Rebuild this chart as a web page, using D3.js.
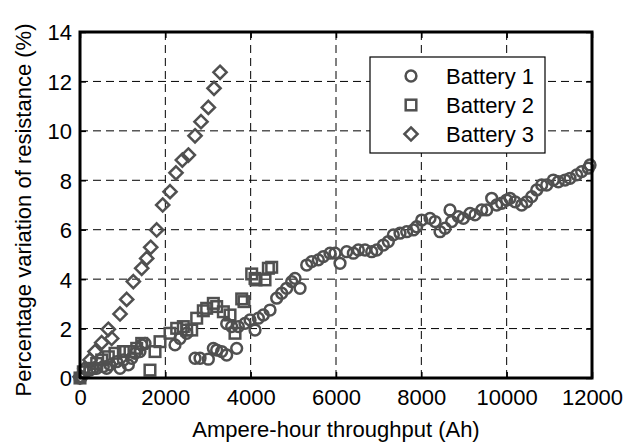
<!DOCTYPE html>
<html><head><meta charset="utf-8">
<script src="https://cdn.jsdelivr.net/npm/d3@7"></script>
<style>
html,body{margin:0;padding:0;background:#fff;}
text{font-family:"Liberation Sans",Arial,sans-serif;}
</style></head>
<body><svg id="c" width="643" height="443"></svg>
<script>
// Data (Ah throughput, % variation of resistance)
const battery1X = [0,39,234,312,391,547,625,703,860,938,1016,1133,1211,1289,1406,1446,1524,2227,2344,2500,2696,2813,3008,3125,3203,3320,3438,3438,3555,3672,3711,3867,3985,4102,4180,4297,4454,4610,4727,4844,4962,5039,5157,5313,5430,5586,5703,5860,5977,6094,6250,6407,6524,6680,6837,6954,7110,7227,7344,7500,7657,7813,7891,8009,8204,8321,8438,8555,8672,8711,8867,8985,9141,9258,9415,9532,9649,9766,9883,10000,10079,10196,10352,10470,10587,10704,10821,10938,11094,11211,11368,11485,11641,11758,11914,11954];
const battery1Y = [0,0.05,0.32,0.39,0.39,0.46,0.39,0.53,0.66,0.39,0.73,0.53,0.8,1.0,1.07,1.34,1.4,1.34,1.6,1.81,0.8,0.8,0.76,1.2,1.13,1.07,0.93,2.2,2.08,1.2,2.08,2.21,2.35,1.94,2.42,2.55,2.75,3.23,3.43,3.63,3.9,4.03,3.63,4.57,4.71,4.78,4.91,5.05,5.05,4.64,5.11,5.05,5.18,5.18,5.11,5.18,5.38,5.52,5.79,5.86,5.92,5.99,6.12,6.39,6.46,6.33,5.92,6.06,6.8,6.33,6.53,6.46,6.66,6.6,6.8,6.8,7.27,7.0,7.07,7.2,7.27,7.13,7.0,7.13,7.34,7.61,7.81,7.81,8.01,7.94,8.01,8.08,8.22,8.35,8.49,8.62];
const battery2X = [0,78,234,391,508,664,820,1016,1172,1329,1446,1640,1758,1875,2110,2266,2422,2500,2618,2735,2890,2969,3125,3203,3360,3516,3633,3790,3844,4024,4102,4125,4336,4415,4493];
const battery2Y = [0,0.25,0.39,0.59,0.73,0.86,1.0,1.07,1.07,1.2,1.4,0.32,1.07,1.47,1.81,2.01,2.08,1.94,1.94,2.42,2.72,2.82,3.02,2.89,2.68,2.55,1.81,3.2,3.09,4.21,4.03,3.97,3.97,4.44,4.48];
const battery3X = [0,117,234,352,508,664,742,938,1094,1250,1446,1563,1657,1797,1938,2110,2250,2399,2540,2696,2836,3008,3141,3282];
const battery3Y = [0.05,0.39,0.73,1.07,1.43,1.97,1.6,2.59,3.18,3.9,4.44,4.84,5.29,5.99,7.0,7.54,8.3,8.82,9.02,9.8,10.37,10.95,11.72,12.37];
const xTicks = [0,2000,4000,6000,8000,10000,12000];
const yTicks = [0,2,4,6,8,10,12,14];
const seriesNames = ["Battery 1","Battery 2","Battery 3"];
const xTitle = "Ampere-hour throughput (Ah)";
const yTitle = "Percentage variation of resistance (%)";

const svg = d3.select("#c");
const L = 80, R = 592, T = 32, B = 378;
const x = d3.scaleLinear().domain([0,12000]).range([L,R]);
const y = d3.scaleLinear().domain([0,14]).range([B,T]);
const markColor = "#505050";
const fs = 22;

// grid
const grid = svg.append("g");
grid.selectAll("line.gx").data(xTicks.slice(1,-1)).join("line")
  .attr("x1",d=>x(d)).attr("x2",d=>x(d)).attr("y1",T).attr("y2",B)
  .attr("stroke","#000").attr("stroke-width",1).attr("stroke-dasharray","8,5");
grid.selectAll("line.gy").data(yTicks.slice(1,-1)).join("line")
  .attr("x1",L).attr("x2",R).attr("y1",d=>y(d)).attr("y2",d=>y(d))
  .attr("stroke","#000").attr("stroke-width",1).attr("stroke-dasharray","8,5");

// markers
function circleSym(g,cx,cy){g.append("circle").attr("cx",cx).attr("cy",cy).attr("r",5.4);}
function squareSym(g,cx,cy){g.append("rect").attr("x",cx-5.3).attr("y",cy-5.3).attr("width",10.6).attr("height",10.6);}
function diamondSym(g,cx,cy){const s=6.6;g.append("path").attr("d",`M${cx},${cy-s}L${cx+s},${cy}L${cx},${cy+s}L${cx-s},${cy}Z`);}
const syms = [circleSym, squareSym, diamondSym];
const sets = [[battery1X,battery1Y],[battery2X,battery2Y],[battery3X,battery3Y]];
const clipG = svg.append("g");
sets.forEach((s,i)=>{
  const g = clipG.append("g").attr("fill","none").attr("stroke",markColor).attr("stroke-width",2.5);
  s[0].forEach((v,j)=>syms[i](g,x(v),y(s[1][j])));
});

// axes
const axB = d3.axisBottom(x).tickValues(xTicks).tickSize(-6).tickPadding(11).tickFormat(d3.format("d"));
const axL = d3.axisLeft(y).tickValues(yTicks).tickSize(-6).tickPadding(8).tickFormat(d3.format("d"));
const axT = d3.axisTop(x).tickValues(xTicks).tickSize(-6).tickFormat("");
const axR = d3.axisRight(y).tickValues(yTicks).tickSize(-6).tickFormat("");
function styleAxis(g){
  g.select(".domain").remove();
  g.selectAll(".tick line").attr("stroke","#000").attr("stroke-width",1.5);
  g.selectAll(".tick text").attr("fill","#000").attr("font-size",fs).attr("font-family","'Liberation Sans',Arial,sans-serif");
}
svg.append("g").attr("transform",`translate(0,${B})`).call(axB).call(styleAxis);
svg.append("g").attr("transform",`translate(${L},0)`).call(axL).call(styleAxis).selectAll(".tick text").attr("dy","0.36em");
svg.append("g").attr("transform",`translate(0,${T})`).call(axT).call(styleAxis);
svg.append("g").attr("transform",`translate(${R},0)`).call(axR).call(styleAxis);
svg.append("rect").attr("x",L).attr("y",T).attr("width",R-L).attr("height",B-T)
  .attr("fill","none").attr("stroke","#000").attr("stroke-width",3);

// titles
svg.append("text").attr("x",(L+R)/2).attr("y",437).attr("text-anchor","middle")
  .attr("font-size",fs).attr("fill","#000").text(xTitle);
svg.append("text").attr("transform","translate(31,210) rotate(-90)").attr("text-anchor","middle")
  .attr("font-size",fs).attr("fill","#000").text(yTitle);

// legend
const lg = svg.append("g");
lg.append("rect").attr("x",370).attr("y",57).attr("width",175).attr("height",96)
  .attr("fill","#fff").attr("stroke","#000").attr("stroke-width",1.2);
const rowsY = [76,105,134];
seriesNames.forEach((n,i)=>{
  const g = lg.append("g").attr("fill","none").attr("stroke",markColor).attr("stroke-width",2.5);
  syms[i](g,411,rowsY[i]);
  lg.append("text").attr("x",446).attr("y",rowsY[i]+8).attr("font-size",fs).attr("fill","#000").text(n);
});
</script></body></html>
